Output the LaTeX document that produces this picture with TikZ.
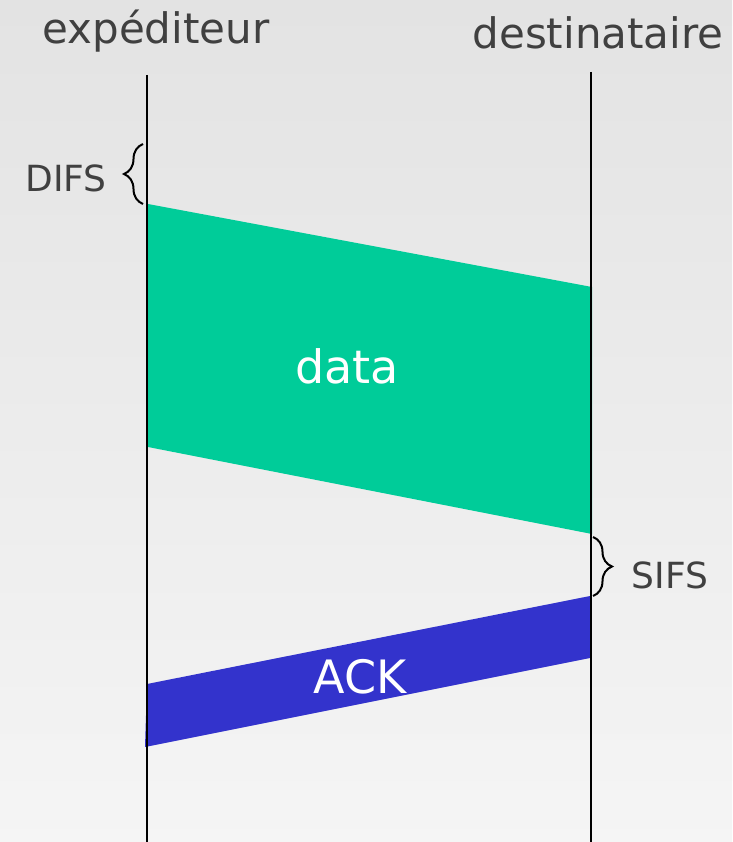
\documentclass[tikz,border=0pt]{standalone}
\usepackage{fontspec}
\setmainfont{DejaVu Sans}
\usetikzlibrary{decorations.pathreplacing}
\definecolor{datagreen}{RGB}{0,204,153}
\definecolor{ackblue}{RGB}{51,51,204}
\definecolor{labelgray}{RGB}{64,64,64}
\tikzset{
  station/.style={font=\fontsize{42}{42}\selectfont, text=labelgray},
  gap/.style={font=\fontsize{36}{36}\selectfont, text=labelgray},
  frame/.style={font=\fontsize{46}{46}\selectfont, text=white},
  timebrace/.style={decorate, decoration={brace, amplitude=19pt}, line width=2pt}
}
\begin{document}
\begin{tikzpicture}[x=1pt, y=-1pt]
  \useasboundingbox (0,0) rectangle (732,842);
  \shade[top color=black!11, bottom color=black!4] (0,0) rectangle (732,842);
  % time lines
  \coordinate (S0) at (147,75);  \coordinate (S1) at (147,842);
  \coordinate (D0) at (591,72);  \coordinate (D1) at (591,842);
  \node[station] (send) at (156,31) {expéditeur};
  \node[station] (recv) at (598,33) {destinataire};
  % data frame
  \fill[datagreen] (148,204) -- (592,287) -- (592,534) -- (148,447) -- cycle;
  \node[frame] (data) at (347,366) {data};
  % ack frame
  \fill[ackblue] (147,684) -- (590,596) -- (590,658) -- (145,747) -- cycle;
  \node[frame] (ack) at (360,677) {ACK};
  \draw[line width=2pt] (S0) -- (S1);
  \draw[line width=2pt] (D0) -- (D1);
  % inter frame spaces
  \draw[timebrace] (143,204) -- (143,144);
  \node[gap] (difs) at (66,178) {DIFS};
  \draw[timebrace] (593,537) -- (593,596);
  \node[gap] (sifs) at (670,575) {SIFS};
\end{tikzpicture}
\end{document}
